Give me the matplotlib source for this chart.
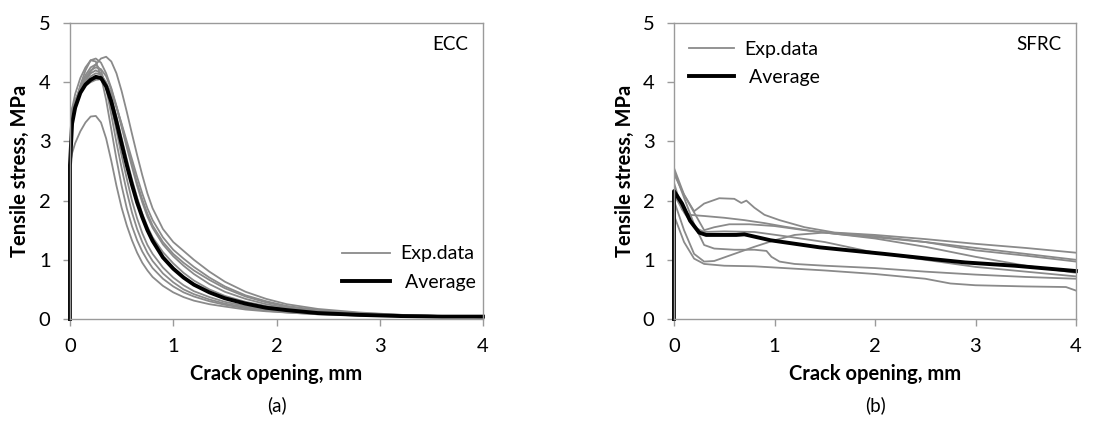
import matplotlib.pyplot as plt

plt.rcParams['font.family'] = ['Lato', 'DejaVu Sans']

# ---------------- ECC: crack opening (mm) vs tensile stress (MPa) ----------------
ecc_w = [0, 0.02, 0.05, 0.1, 0.15, 0.2, 0.25, 0.3, 0.35, 0.4, 0.45, 0.5, 0.55, 0.6,
         0.65, 0.7, 0.75, 0.8, 0.9, 1.0, 1.1, 1.2, 1.35, 1.5, 1.7, 1.9, 2.1, 2.4,
         2.8, 3.2, 3.6, 4.0]
ecc_tests = [
    [2.6, 2.8, 2.97, 3.17, 3.32, 3.42, 3.43, 3.32, 3.05, 2.67, 2.25, 1.88, 1.58, 1.33, 1.12, 0.95,
     0.82, 0.71, 0.56, 0.45, 0.37, 0.31, 0.25, 0.21, 0.16, 0.13, 0.11, 0.08, 0.06, 0.05, 0.04, 0.03],
    [3.0, 3.3, 3.6, 3.95, 4.2, 4.37, 4.35, 4.1, 3.7, 3.2, 2.7, 2.25, 1.87, 1.57, 1.33, 1.14,
     0.99, 0.86, 0.68, 0.55, 0.45, 0.38, 0.3, 0.24, 0.18, 0.14, 0.11, 0.08, 0.06, 0.05, 0.04, 0.03],
    [3.1, 3.4, 3.65, 3.93, 4.12, 4.25, 4.3, 4.2, 3.9, 3.45, 2.98, 2.55, 2.15, 1.8, 1.52, 1.3,
     1.12, 0.98, 0.77, 0.62, 0.5, 0.42, 0.33, 0.26, 0.2, 0.15, 0.12, 0.09, 0.06, 0.05, 0.04, 0.03],
    [3.2, 3.45, 3.65, 3.88, 4.04, 4.15, 4.2, 4.15, 3.95, 3.6, 3.18, 2.76, 2.37, 2.0, 1.7, 1.45,
     1.25, 1.1, 0.87, 0.7, 0.57, 0.47, 0.37, 0.29, 0.22, 0.17, 0.13, 0.1, 0.07, 0.05, 0.04, 0.04],
    [3.3, 3.5, 3.68, 3.87, 4.0, 4.1, 4.15, 4.13, 4.0, 3.75, 3.42, 3.06, 2.7, 2.36, 2.05, 1.78,
     1.56, 1.38, 1.13, 0.94, 0.78, 0.65, 0.5, 0.39, 0.29, 0.22, 0.17, 0.12, 0.08, 0.06, 0.05, 0.04],
    [3.2, 3.45, 3.68, 3.92, 4.08, 4.2, 4.25, 4.22, 4.1, 3.88, 3.58, 3.24, 2.9, 2.57, 2.25, 1.97,
     1.73, 1.54, 1.26, 1.06, 0.9, 0.76, 0.59, 0.46, 0.34, 0.25, 0.19, 0.13, 0.09, 0.06, 0.05, 0.04],
    [3.4, 3.55, 3.7, 3.84, 3.94, 4.0, 4.04, 4.05, 3.98, 3.82, 3.58, 3.3, 3.0, 2.7, 2.4, 2.12,
     1.87, 1.67, 1.38, 1.17, 1.02, 0.88, 0.7, 0.55, 0.4, 0.3, 0.22, 0.15, 0.1, 0.07, 0.05, 0.04],
    [3.3, 3.55, 3.8, 4.07, 4.25, 4.37, 4.4, 4.33, 4.15, 3.9, 3.6, 3.28, 2.95, 2.62, 2.3, 2.02,
     1.78, 1.58, 1.3, 1.1, 0.95, 0.82, 0.66, 0.52, 0.38, 0.28, 0.21, 0.14, 0.09, 0.07, 0.05, 0.04],
    [3.2, 3.4, 3.6, 3.83, 4.02, 4.18, 4.3, 4.4, 4.43, 4.35, 4.15, 3.85, 3.5, 3.13, 2.77, 2.43,
     2.12, 1.87, 1.52, 1.3, 1.15, 1.0, 0.8, 0.63, 0.46, 0.34, 0.25, 0.17, 0.11, 0.07, 0.05, 0.04],
]
ecc_avg_w = [0, 0, 0.02, 0.05, 0.1, 0.15, 0.2, 0.25, 0.3, 0.35, 0.4, 0.45, 0.5, 0.55, 0.6,
             0.65, 0.7, 0.75, 0.8, 0.9, 1.0, 1.1, 1.2, 1.35, 1.5, 1.7, 1.9, 2.1, 2.4,
             2.8, 3.2, 3.6, 4.0]
ecc_avg = [0, 2.6, 3.3, 3.57, 3.82, 3.96, 4.04, 4.09, 4.07, 3.93, 3.67, 3.33, 2.96, 2.6, 2.27,
           1.97, 1.72, 1.5, 1.32, 1.04, 0.85, 0.7, 0.58, 0.45, 0.35, 0.26, 0.19, 0.15, 0.1,
           0.07, 0.05, 0.04, 0.04]

# ---------------- SFRC ----------------
sfrc_tests = [
    ([0, 0.1, 0.2, 0.3, 0.45, 0.6, 0.67, 0.72, 0.8, 0.9, 1.05, 1.3, 1.6, 2.0, 2.5, 3.0, 3.5, 4.0],
     [2.45, 2.1, 1.82, 1.95, 2.04, 2.03, 1.96, 2.0, 1.88, 1.76, 1.67, 1.55, 1.46, 1.42, 1.35, 1.27, 1.2, 1.12]),
    ([0, 0.08, 0.15, 0.3, 0.5, 0.7, 0.9, 1.1, 1.4, 1.7, 2.0, 2.5, 3.0, 3.5, 4.0],
     [2.3, 1.85, 1.76, 1.74, 1.71, 1.67, 1.62, 1.56, 1.48, 1.42, 1.36, 1.22, 1.05, 0.9, 0.78]),
    ([0, 0.1, 0.2, 0.3, 0.4, 0.55, 0.75, 1.0, 1.3, 1.6, 2.0, 2.5, 3.0, 3.5, 4.0],
     [2.55, 2.1, 1.8, 1.5, 1.55, 1.6, 1.6, 1.57, 1.5, 1.44, 1.38, 1.3, 1.2, 1.1, 1.0]),
    ([0, 0.1, 0.2, 0.3, 0.5, 0.8, 1.1, 1.5, 2.0, 2.5, 3.0, 3.5, 4.0],
     [2.1, 1.8, 1.55, 1.47, 1.48, 1.47, 1.4, 1.3, 1.12, 1.0, 0.88, 0.8, 0.72]),
    ([0, 0.1, 0.2, 0.3, 0.4, 0.6, 0.8, 0.92, 0.97, 1.05, 1.2, 1.5, 2.0, 2.5, 3.0, 3.5, 4.0],
     [2.5, 2.05, 1.6, 1.25, 1.19, 1.17, 1.17, 1.15, 1.05, 0.97, 0.93, 0.9, 0.86, 0.8, 0.75, 0.71, 0.68]),
    ([0, 0.1, 0.2, 0.3, 0.4, 0.6, 0.8, 1.0, 1.2, 1.5, 1.8, 2.0, 2.5, 3.0, 3.5, 4.0],
     [2.0, 1.5, 1.1, 0.97, 0.98, 1.1, 1.22, 1.33, 1.42, 1.46, 1.43, 1.4, 1.3, 1.16, 1.07, 0.97]),
    ([0, 0.1, 0.2, 0.3, 0.5, 0.8, 1.0, 1.5, 2.0, 2.5, 2.75, 3.0, 3.5, 3.9, 4.0],
     [1.75, 1.3, 1.02, 0.93, 0.9, 0.89, 0.87, 0.82, 0.76, 0.68, 0.6, 0.57, 0.55, 0.54, 0.48]),
]
sfrc_avg_w = [0, 0, 0.08, 0.16, 0.25, 0.32, 0.48, 0.62, 0.7, 0.96, 1.45, 2.09, 2.58, 2.9, 3.39, 4.0]
sfrc_avg = [0, 2.16, 1.95, 1.66, 1.46, 1.42, 1.42, 1.42, 1.43, 1.33, 1.21, 1.1, 1.01, 0.955, 0.9, 0.81]

gray = '#8a8a8a'
axis_gray = '#9a9a9a'

fig = plt.figure(figsize=(10.97, 4.43), dpi=100)
ax1 = fig.add_axes([70 / 1097, 1 - 319 / 443, 413 / 1097, 296 / 443])
ax2 = fig.add_axes([674 / 1097, 1 - 319 / 443, 402 / 1097, 296 / 443])

for y in ecc_tests:
    ax1.plot(ecc_w, y, color=gray, lw=1.3)
ax1.plot([], [], color=gray, lw=1.3, label='Exp.data')
ax1.plot(ecc_avg_w, ecc_avg, color='black', lw=2.8, label=' Average', clip_on=False)

for w, y in sfrc_tests:
    ax2.plot(w, y, color=gray, lw=1.3)
ax2.plot([], [], color=gray, lw=1.3, label='Exp.data')
ax2.plot(sfrc_avg_w, sfrc_avg, color='black', lw=2.8, label=' Average', clip_on=False)

for ax, name, cap in [(ax1, 'ECC', '(a)'), (ax2, 'SFRC', '(b)')]:
    ax.set_xlim(0, 4)
    ax.set_ylim(0, 5)
    ax.set_xticks([0, 1, 2, 3, 4])
    ax.set_yticks([0, 1, 2, 3, 4, 5])
    for s in ax.spines.values():
        s.set_color(axis_gray)
        s.set_linewidth(1.0)
    ax.tick_params(direction='out', length=5, width=1.0, color=axis_gray,
                   labelsize=14.5, labelcolor='black')
    ax.tick_params(axis='y', pad=9)
    ax.tick_params(axis='x', pad=9)
    ax.set_xlabel('Crack opening, mm', fontsize=14.5, fontweight='bold')
    ax.set_ylabel('Tensile stress, MPa', fontsize=14.5, fontweight='bold')
    ax.xaxis.set_label_coords(0.5, -0.152)
    ax.yaxis.set_label_coords(-0.097, 0.5)
    ax.text(0.965, 0.926, name, transform=ax.transAxes, ha='right', va='center', fontsize=13.5)
    ax.text(0.5, -0.29, cap, transform=ax.transAxes, ha='center', va='center', fontsize=13.5)

ax1.legend(loc='lower right', bbox_to_anchor=(1.025, 0.035), frameon=False, fontsize=14,
           handlelength=2.5, handletextpad=0.5, labelspacing=0.6)
ax2.legend(loc='upper left', bbox_to_anchor=(-0.005, 1.0), frameon=False, fontsize=14,
           handlelength=2.3, handletextpad=0.5, labelspacing=0.6)

fig.savefig('out.png', dpi=100)
